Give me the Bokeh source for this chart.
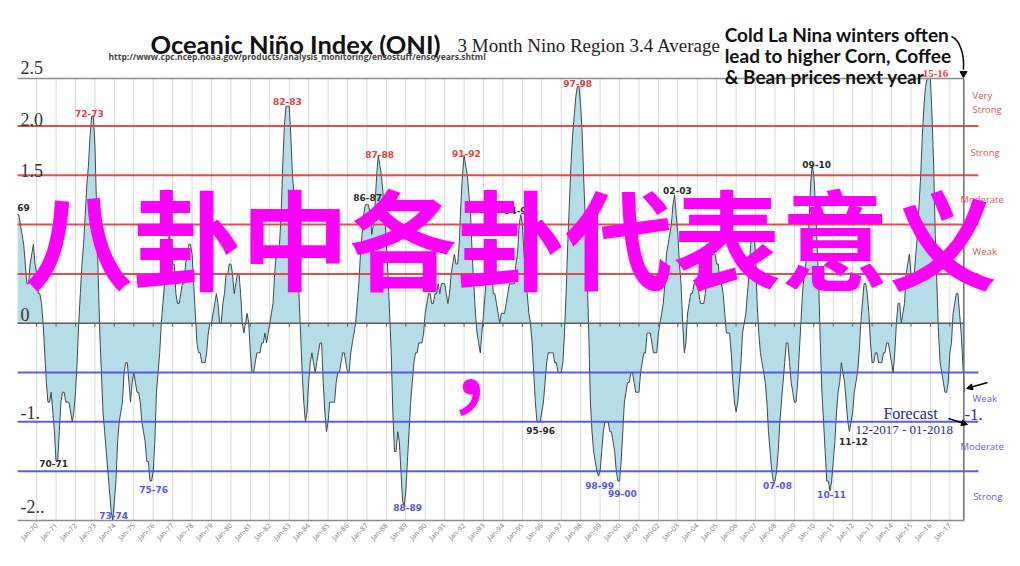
import numpy as np
from bokeh.plotting import figure
from bokeh.models import FixedTicker, Arrow, NormalHead
from bokeh.core.properties import value
from bokeh.embed import file_html
from bokeh.resources import INLINE

# ---------------- data (3-month running mean, monthly from Jan 1969) ----------------
oni_1969_1979 = [
    1.1, 1.1, 1.0, 0.9, 0.8, 0.6, 0.4, 0.4, 0.6, 0.7, 0.8, 0.6,
    0.5, 0.3, 0.3, 0.2, 0.0, -0.3, -0.6, -0.8, -0.8, -0.7, -0.9, -1.1,
    -1.4, -1.4, -1.1, -0.8, -0.7, -0.7, -0.8, -0.8, -0.8, -0.9, -1.0, -0.9,
    -0.7, -0.4, 0.0, 0.3, 0.6, 0.8, 1.1, 1.4, 1.6, 1.9, 2.1, 2.1,
    1.8, 1.2, 0.5, -0.1, -0.5, -0.9, -1.1, -1.3, -1.5, -1.7, -1.9, -2.0,
    -1.8, -1.6, -1.2, -1.0, -0.9, -0.8, -0.5, -0.4, -0.4, -0.6, -0.8, -0.6,
    -0.5, -0.6, -0.7, -0.7, -0.8, -1.0, -1.1, -1.2, -1.4, -1.4, -1.6, -1.6,
    -1.5, -1.2, -0.7, -0.5, -0.3, 0.0, 0.2, 0.4, 0.6, 0.8, 0.9, 0.8,
    0.6, 0.6, 0.3, 0.2, 0.2, 0.3, 0.4, 0.4, 0.6, 0.7, 0.8, 0.8,
    0.7, 0.4, 0.1, -0.2, -0.3, -0.3, -0.4, -0.4, -0.4, -0.3, -0.1, 0.0,
    0.0, 0.1, 0.2, 0.3, 0.2, 0.0, 0.0, 0.2, 0.3, 0.5, 0.5, 0.6,
]
oni_1980_1989 = [
    0.6, 0.5, 0.3, 0.4, 0.5, 0.5, 0.3, 0.0, -0.1, 0.0, 0.1, 0.0,
    -0.3, -0.5, -0.5, -0.4, -0.3, -0.3, -0.3, -0.2, -0.2, -0.1, -0.2, -0.1,
    0.0, 0.1, 0.2, 0.5, 0.7, 0.7, 0.8, 1.1, 1.6, 2.0, 2.2, 2.2,
    2.2, 1.9, 1.5, 1.3, 1.1, 0.7, 0.3, -0.1, -0.5, -0.8, -1.0, -0.9,
    -0.6, -0.4, -0.3, -0.4, -0.5, -0.4, -0.3, -0.2, -0.2, -0.6, -0.9, -1.1,
    -1.0, -0.8, -0.8, -0.8, -0.8, -0.6, -0.5, -0.5, -0.4, -0.3, -0.3, -0.4,
    -0.5, -0.5, -0.3, -0.2, -0.1, 0.0, 0.2, 0.4, 0.7, 0.9, 1.1, 1.2,
    1.2, 1.2, 1.1, 0.9, 1.0, 1.2, 1.5, 1.7, 1.6, 1.5, 1.3, 1.1,
    0.8, 0.5, 0.1, -0.3, -0.9, -1.3, -1.3, -1.1, -1.2, -1.5, -1.8, -1.85,
    -1.7, -1.4, -1.1, -0.8, -0.6, -0.4, -0.3, -0.3, -0.2, -0.2, -0.2, -0.1,
]
oni_1990_1999 = [
    0.1, 0.2, 0.3, 0.3, 0.2, 0.2, 0.3, 0.3, 0.4, 0.3, 0.4, 0.4,
    0.4, 0.3, 0.2, 0.3, 0.5, 0.6, 0.7, 0.6, 0.6, 0.8, 1.2, 1.5,
    1.7, 1.6, 1.5, 1.3, 1.1, 0.7, 0.4, 0.1, -0.1, -0.2, -0.3, -0.1,
    0.1, 0.3, 0.5, 0.7, 0.7, 0.6, 0.3, 0.3, 0.2, 0.1, 0.0, 0.1,
    0.1, 0.1, 0.2, 0.3, 0.4, 0.4, 0.4, 0.4, 0.6, 0.7, 1.0, 1.1,
    1.0, 0.7, 0.5, 0.3, 0.1, 0.0, -0.2, -0.5, -0.8, -1.0, -1.0, -1.0,
    -0.9, -0.8, -0.6, -0.4, -0.3, -0.3, -0.3, -0.3, -0.4, -0.4, -0.5, -0.5,
    -0.5, -0.4, -0.1, 0.3, 0.8, 1.2, 1.6, 1.9, 2.1, 2.3, 2.4, 2.4,
    2.2, 1.9, 1.4, 1.0, 0.5, -0.1, -0.8, -1.1, -1.3, -1.4, -1.5, -1.55,
    -1.5, -1.3, -1.1, -1.0, -1.0, -1.0, -1.1, -1.1, -1.2, -1.3, -1.5, -1.6,
]
oni_2000_2009 = [
    -1.6, -1.4, -1.1, -0.8, -0.7, -0.6, -0.6, -0.5, -0.5, -0.6, -0.7, -0.7,
    -0.7, -0.5, -0.4, -0.3, -0.3, -0.1, -0.1, -0.1, -0.2, -0.3, -0.3, -0.3,
    -0.1, 0.0, 0.1, 0.2, 0.4, 0.7, 0.8, 0.9, 1.0, 1.2, 1.3, 1.1,
    0.9, 0.6, 0.4, 0.0, -0.3, -0.2, 0.1, 0.2, 0.3, 0.3, 0.4, 0.4,
    0.4, 0.3, 0.2, 0.2, 0.2, 0.3, 0.5, 0.6, 0.7, 0.7, 0.7, 0.7,
    0.6, 0.6, 0.4, 0.4, 0.3, 0.1, -0.1, -0.1, -0.1, -0.3, -0.6, -0.8,
    -0.9, -0.8, -0.6, -0.4, -0.1, 0.0, 0.1, 0.3, 0.5, 0.8, 0.9, 0.9,
    0.7, 0.2, -0.1, -0.3, -0.4, -0.5, -0.6, -0.8, -1.1, -1.3, -1.5, -1.6,
    -1.6, -1.5, -1.3, -1.0, -0.8, -0.6, -0.4, -0.2, -0.2, -0.4, -0.6, -0.7,
    -0.8, -0.8, -0.6, -0.3, 0.0, 0.3, 0.5, 0.6, 0.7, 1.0, 1.4, 1.6,
]
oni_2010_2017 = [
    1.5, 1.2, 0.8, 0.4, -0.2, -0.7, -1.0, -1.3, -1.6, -1.6, -1.7, -1.6,
    -1.4, -1.2, -0.9, -0.7, -0.6, -0.4, -0.5, -0.6, -0.8, -1.0, -1.1, -1.0,
    -0.9, -0.7, -0.6, -0.5, -0.3, 0.0, 0.2, 0.4, 0.4, 0.3, 0.1, -0.2,
    -0.4, -0.4, -0.3, -0.3, -0.4, -0.4, -0.4, -0.3, -0.3, -0.2, -0.2, -0.3,
    -0.4, -0.5, -0.3, 0.0, 0.2, 0.2, 0.0, 0.1, 0.2, 0.5, 0.6, 0.7,
    0.5, 0.5, 0.5, 0.7, 0.9, 1.2, 1.5, 1.9, 2.2, 2.4, 2.6, 2.6,
    2.5, 2.1, 1.6, 0.9, 0.4, -0.1, -0.4, -0.5, -0.6, -0.7, -0.7, -0.6,
    -0.3, -0.2, 0.1, 0.2, 0.3, 0.3, 0.1, -0.1, -0.4, -0.7,
]
first_year = 1969
tick_years = list(range(1969, 2018))
tick_labels = [""] + ["Jan-%02d" % (y % 100) for y in tick_years[1:]]

y_tick_texts = ["2.5", "2.0", "1.5", "0", "-1.", "-2.."]
y_tick_pos = [2.59, 2.06, 1.55, 0.09, -0.90, -1.86]

el_nino_levels = [0.5, 1.0, 1.5, 2.0]
la_nina_levels = [-0.5, -1.0, -1.5]

# event labels: text, year position, value position, kind
event_texts = ["72-73", "82-83", "87-88", "91-92", "97-98",
               "69", "86-87", "94-95", "02-03", "09-10",
               "70-71", "95-96", "11-12",
               "73-74", "75-76", "88-89", "98-99", "99-00", "07-08", "10-11"]
event_x = [1972.72, 1982.91, 1987.65, 1992.12, 1997.84,
           1969.0, 1987.03, 1994.80, 2002.98, 2010.14,
           1970.87, 1995.94, 2012.04,
           1973.96, 1976.02, 1989.09, 1998.97, 2000.15, 2008.13, 2010.91]
event_y = [2.13, 2.25, 1.71, 1.72, 2.43,
           1.17, 1.27, 1.14, 1.35, 1.61,
           -1.42, -1.09, -1.20,
           -1.95, -1.69, -1.87, -1.64, -1.73, -1.65, -1.74]
event_kind = ["strong_warm"] * 5 + ["warm"] * 5 + ["cold"] * 3 + ["strong_cold"] * 7

warm_strength = ["Very", "Strong", "Strong", "Moderate", "Weak"]
warm_strength_x = [2018.17, 2018.17, 2018.06, 2017.55, 2018.17]
warm_strength_y = [2.31, 2.17, 1.73, 1.25, 0.73]
cold_strength = ["Weak", "Moderate", "Strong"]
cold_strength_x = [2018.17, 2017.55, 2018.2]
cold_strength_y = [-0.76, -1.25, -1.76]

# ---------------- derived ----------------
oni = np.array(oni_1969_1979 + oni_1980_1989 + oni_1990_1999 + oni_2000_2009 + oni_2010_2017)
t = first_year + np.arange(len(oni)) / 12.0

Y_TOP, Y_BOT = 2.48, -2.0
X_LEFT, X_RIGHT = 1969.0, 2017.72
LINE_END = 2018.47
oni_plot = np.clip(oni, Y_BOT, Y_TOP)

p = figure(width=1004, height=550, x_range=(1969.0154, 2019.813), y_range=(-2.020, 3.271),
           output_backend="svg", toolbar_location=None, y_axis_location=None,
           min_border_left=17, min_border_right=0, min_border_top=0, min_border_bottom=28)
p.outline_line_color = None
p.xgrid.grid_line_color = None
p.ygrid.grid_line_color = None

ax = p.xaxis[0]
ax.ticker = FixedTicker(ticks=tick_years)
ax.major_label_overrides = {y: lab for y, lab in zip(tick_years, tick_labels)}
ax.major_label_orientation = np.pi / 4
ax.major_label_text_font = "Open Sans"
ax.major_label_text_font_size = "7px"
ax.major_label_text_color = "#7a7a7a"
ax.major_label_standoff = 2
ax.axis_line_color = None
ax.major_tick_line_color = None
ax.minor_tick_line_color = None
ax.major_tick_out = 0
ax.major_tick_in = 0
ax.minor_tick_out = 0
ax.minor_tick_in = 0

# vertical year grid
p.segment(x0=tick_years[1:], y0=Y_BOT, x1=tick_years[1:], y1=Y_TOP, line_color="#dadada", line_width=1)

# area + outline
p.varea(x=t, y1=0, y2=oni_plot, fill_color="#b4dde7")
p.line(t, oni_plot, line_color="#3d4a4f", line_width=1)

# threshold lines
p.segment(x0=X_LEFT, y0=el_nino_levels, x1=LINE_END, y1=el_nino_levels,
          line_color="#e03a3a", line_width=2, line_alpha=0.9)
p.segment(x0=X_LEFT, y0=la_nina_levels, x1=LINE_END, y1=la_nina_levels,
          line_color="#4a4aea", line_width=2, line_alpha=0.9)

# zero line with year ticks
p.segment(x0=X_LEFT, y0=0, x1=X_RIGHT, y1=0, line_color="#5c5c5c", line_width=1.5)
p.segment(x0=tick_years[1:], y0=0, x1=tick_years[1:], y1=-0.035, line_color="#5c5c5c", line_width=1)

# frame borders
p.segment(x0=X_LEFT, y0=Y_TOP, x1=X_RIGHT, y1=Y_TOP, line_color="#8c8c8c", line_width=1.5)
p.segment(x0=X_LEFT, y0=Y_BOT, x1=X_RIGHT, y1=Y_BOT, line_color="#8c8c8c", line_width=1.5)
p.segment(x0=X_RIGHT, y0=Y_BOT, x1=X_RIGHT, y1=Y_TOP, line_color="#6e6e6e", line_width=1.5)

# y tick labels (drawn inside plot)
p.text(x=1969.17, y=y_tick_pos, text=y_tick_texts, text_font=value("Liberation Serif"),
       text_font_size="18px", text_color="#333333", text_baseline="alphabetic", text_align="left")

# event labels
kind_color = {"strong_warm": "#e8423f", "warm": "#2a2a2a", "cold": "#2a2a2a", "strong_cold": "#5656ee"}
for txt, ex, ey, k in zip(event_texts, event_x, event_y, event_kind):
    align = "left" if txt == "69" else "center"
    p.text(x=[ex], y=[ey], text=[txt], text_font=value("DejaVu Sans"), text_font_style="bold",
           text_font_size="9px", text_color=kind_color[k], text_align=align, text_baseline="middle")
p.text(x=[2016.26], y=[2.53], text=["15-16"], text_font=value("Liberation Serif"), text_font_style="bold",
       text_font_size="11px", text_color="#e8423f", text_align="center", text_baseline="middle")

# strength labels on right
p.text(x=warm_strength_x, y=warm_strength_y, text=warm_strength,
       text_font=value("Open Sans"), text_font_size="9.5px", text_color="#e25555",
       text_align="left", text_baseline="middle")
p.text(x=cold_strength_x, y=cold_strength_y, text=cold_strength,
       text_font=value("Open Sans"), text_font_size="9.5px", text_color="#6262e6",
       text_align="left", text_baseline="middle")

# forecast annotation
p.text(x=[2013.58], y=[-0.915], text=["Forecast"], text_font=value("Liberation Serif"),
       text_font_size="16px", text_color="#2a2aa0", text_align="left", text_baseline="middle")
p.text(x=[2012.14], y=[-1.08], text=["12-2017 - 01-2018"], text_font=value("Liberation Serif"),
       text_font_size="13px", text_color="#2a2aa0", text_align="left", text_baseline="middle")
p.text(x=[2017.75], y=[-0.93], text=["-1."], text_font=value("Liberation Serif"),
       text_font_size="17px", text_color="#2a2aa0", text_align="left", text_baseline="middle")
p.add_layout(Arrow(x_start=2018.94, y_start=-0.601, x_end=2017.86, y_end=-0.662,
                   line_color="black", line_width=1.5,
                   end=NormalHead(size=6, fill_color="black", line_color="black")))
p.add_layout(Arrow(x_start=2016.93, y_start=-0.966, x_end=2017.91, y_end=-1.027,
                   line_color="black", line_width=1.5,
                   end=NormalHead(size=6, fill_color="black", line_color="black")))

# titles
p.text(x=[1975.86], y=[2.834], text=["Oceanic Niño Index (ONI)"], text_font=value("Lato"),
       text_font_style="bold", text_font_size="25.5px", text_color="#111111",
       text_align="left", text_baseline="alphabetic")
p.text(x=[1991.66], y=[2.814], text=["3 Month Nino Region 3.4 Average"], text_font=value("Liberation Serif"),
       text_font_size="19px", text_color="#222222", text_align="left", text_baseline="alphabetic")
p.text(x=[1973.70], y=[2.703], text=["http://www.cpc.ncep.noaa.gov/products/analysis_monitoring/ensostuff/ensoyears.shtml"],
       text_font=value("Open Sans"), text_font_style="bold", text_font_size="8.5px", text_color="#444444",
       text_align="left", text_baseline="alphabetic")
p.text(x=[2005.41] * 3, y=[2.925, 2.713, 2.500],
       text=["Cold La Nina winters often", "lead to higher Corn, Coffee", "& Bean prices next year"],
       text_font=value("Lato"), text_font_style="bold", text_font_size="19px", text_color="#111111",
       text_align="left", text_baseline="alphabetic")
p.bezier(x0=[2017.085], y0=[2.906], x1=[2017.70], y1=[2.57], cx0=[2017.55], cy0=[2.866],
         cx1=[2017.754], cy1=[2.713], line_color="black", line_width=1.5)
p.scatter(x=[2017.70], y=[2.53], marker="inverted_triangle", size=7, color="black")

# overlay
p.text(x=[1969.40], y=[0.898], text=["八卦中各卦代表意义"], text_font=value("Noto Sans CJK SC"),
       text_font_style="bold", text_font_size="108px", text_color="#ff00ff",
       text_align="left", text_baseline="middle")
p.text(x=[1990.99], y=[-0.338], text=["，"], text_font=value("Noto Sans CJK SC"),
       text_font_size="108px", text_color="#ff00ff",
       text_align="left", text_baseline="alphabetic")

open("out.html", "w").write(file_html(p, INLINE))
